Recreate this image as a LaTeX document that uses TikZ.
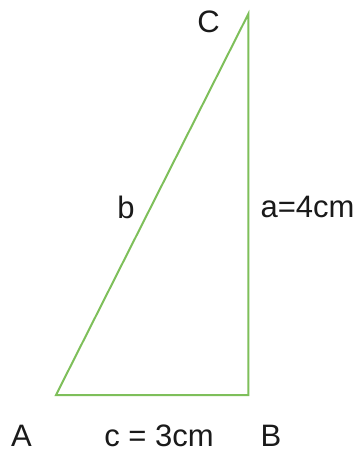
\documentclass[tikz,border=0pt]{standalone}
\usepackage{fontspec}
\setmainfont{Liberation Sans}
\definecolor{edgegreen}{HTML}{7EBF5A}
\definecolor{txt}{HTML}{1A1A1A}
\begin{document}
\begin{tikzpicture}[x=1pt,y=-1pt,
  lbl/.style={anchor=base,inner sep=0pt,text=txt,font=\fontsize{31}{36}\selectfont},
  side/.style={draw=edgegreen,line width=2pt,line join=miter}]
\useasboundingbox (0,0) rectangle (358,452);
\coordinate (A) at (56,395);
\coordinate (B) at (248.3,395);
\coordinate (C) at (248.3,14);
\draw[side] (A) -- (B) -- (C) -- cycle;
\node[lbl] (lC) at (208.5,33) {C};
\node[lbl] (lb) at (126,218) {b};
\node[lbl] (la) at (307.5,217.5) {a=4cm};
\node[lbl] (lA) at (21.5,446) {A};
\node[lbl] (lc) at (159,446) {c = 3cm};
\node[lbl] (lB) at (271,446) {B};
\end{tikzpicture}
\end{document}
